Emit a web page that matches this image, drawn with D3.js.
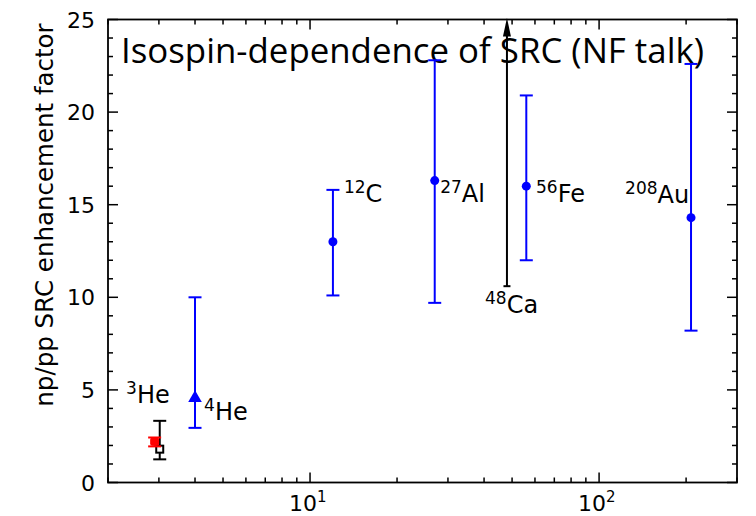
<!DOCTYPE html>
<html><head><meta charset="utf-8">
<script src="https://cdn.jsdelivr.net/npm/d3@7"></script>
<style>body{margin:0;background:#fff}svg{display:block}</style>
</head><body><svg id="c" width="756" height="516"></svg>
<script>
// Blue data points (mass number, factor, low, high)
const blueNames = ["4He","12C","27Al","56Fe","208Au"];
const blueA     = [4, 12, 27, 56, 208];
const blueY     = [4.5, 13.0, 16.3, 16.0, 14.3];
const blueLo    = [2.95, 10.1, 9.7, 12.0, 8.2];
const blueHi    = [10.0, 15.8, 22.8, 20.9, 22.6];
// 3He points
const he3BlackA = [3.02], he3BlackY = [1.8], he3BlackLo = [1.25], he3BlackHi = [3.33];
const he3RedA   = [2.9],  he3RedY   = [2.2], he3RedLo   = [1.95], he3RedHi   = [2.43];
// 48Ca lower limit arrow
const caA = [48], caLo = [10.6], caHi = [25];
// labels
const labMass = ["3","4","12","27","56","208","48"];
const labElem = ["He","He","C","Al","Fe","Au","Ca"];
const labA    = [2.31, 4.3, 13.1, 28.2, 60.5, 123, 40.3];
const labY    = [4.3, 3.37, 15.16, 15.16, 15.16, 15.1, 9.15];
const yTicks  = [0,5,10,15,20,25];
const xMajor  = [10,100];
const titleText = "Isospin-dependence of SRC (NF talk)";
const yLabel = "np/pp SRC enhancement factor";

const svg = d3.select("#c");
const L=108, R=737, T=19.5, B=482.5;
const x = d3.scaleLog().domain([2,300]).range([L,R]);
const y = d3.scaleLinear().domain([0,25]).range([B,T]);
const DJ = "DejaVu Sans, sans-serif";

const xMinor = [];
[1,10,100].forEach(d=>{for(let k=2;k<=9;k++){const v=d*k; if(v>=2&&v<=300&&v!==10&&v!==100) xMinor.push(v);}});
const yMinor = d3.range(1,25).filter(v=>v%5!==0);

const g = svg.append("g").attr("stroke","#000").attr("stroke-width",1.5);
xMajor.forEach(v=>{
  g.append("line").attr("x1",x(v)).attr("x2",x(v)).attr("y1",B).attr("y2",B-10);
  g.append("line").attr("x1",x(v)).attr("x2",x(v)).attr("y1",T).attr("y2",T+10);
});
xMinor.forEach(v=>{
  g.append("line").attr("x1",x(v)).attr("x2",x(v)).attr("y1",B).attr("y2",B-5);
  g.append("line").attr("x1",x(v)).attr("x2",x(v)).attr("y1",T).attr("y2",T+5);
});
yTicks.forEach(v=>{
  g.append("line").attr("x1",L).attr("x2",L+10).attr("y1",y(v)).attr("y2",y(v));
  g.append("line").attr("x1",R).attr("x2",R-10).attr("y1",y(v)).attr("y2",y(v));
});
yMinor.forEach(v=>{
  g.append("line").attr("x1",L).attr("x2",L+5).attr("y1",y(v)).attr("y2",y(v));
  g.append("line").attr("x1",R).attr("x2",R-5).attr("y1",y(v)).attr("y2",y(v));
});
svg.append("rect").attr("x",L).attr("y",T).attr("width",R-L).attr("height",B-T)
  .attr("fill","none").attr("stroke","#000").attr("stroke-width",1.8);

yTicks.forEach(v=>{
  svg.append("text").attr("x",95).attr("y",y(v)+8).attr("text-anchor","end")
    .attr("font-family",DJ).attr("font-size",22).text(v);
});
xMajor.forEach(v=>{
  const t = svg.append("text").attr("x",x(v)-21).attr("y",511)
    .attr("font-family",DJ).attr("font-size",22);
  t.append("tspan").text("10");
  t.append("tspan").attr("dy",-9).attr("font-size",15).text(Math.round(Math.log10(v)));
});
svg.append("text").attr("transform","translate(53,215) rotate(-90)").attr("text-anchor","middle")
  .attr("font-family",DJ).attr("font-size",24.5).text(yLabel);

svg.append("text").attr("x",121).attr("y",63).attr("font-family","Open Sans, sans-serif")
  .attr("font-size",35).attr("textLength",583).attr("lengthAdjust","spacingAndGlyphs").text(titleText);

function ebar(xv, lo, hi, col, cap){
  const gg = svg.append("g").attr("stroke",col).attr("stroke-width",2);
  gg.append("line").attr("x1",x(xv)).attr("x2",x(xv)).attr("y1",y(lo)).attr("y2",y(hi));
  [lo,hi].forEach(v=>gg.append("line").attr("x1",x(xv)-cap).attr("x2",x(xv)+cap).attr("y1",y(v)).attr("y2",y(v)));
}
blueA.forEach((a,i)=>{
  ebar(a, blueLo[i], blueHi[i], "#0000ff", 6.5);
  if(blueNames[i]==="4He"){
    svg.append("path").attr("d",d3.symbol(d3.symbolTriangle,80)())
      .attr("transform",`translate(${x(a)},${y(blueY[i])-1})`).attr("fill","#0000ff");
  } else {
    svg.append("circle").attr("cx",x(a)).attr("cy",y(blueY[i])).attr("r",4.5).attr("fill","#0000ff");
  }
});
ebar(he3BlackA[0], he3BlackLo[0], he3BlackHi[0], "#000", 6.5);
svg.append("rect").attr("x",x(he3BlackA[0])-3.5).attr("y",y(he3BlackY[0])-3.5).attr("width",7).attr("height",7)
  .attr("fill","#fff").attr("stroke","#000").attr("stroke-width",2);
ebar(he3RedA[0], he3RedLo[0], he3RedHi[0], "#ff0000", 6.5);
svg.append("rect").attr("x",x(he3RedA[0])-4.5).attr("y",y(he3RedY[0])-4).attr("width",9).attr("height",8)
  .attr("rx",2).attr("fill","#ff0000");

const ca = svg.append("g").attr("stroke","#000").attr("stroke-width",2);
ca.append("line").attr("x1",x(caA[0])).attr("x2",x(caA[0])).attr("y1",y(caLo[0])).attr("y2",y(caHi[0])+14);
ca.append("line").attr("x1",x(caA[0])-3.5).attr("x2",x(caA[0])+3.5).attr("y1",y(caLo[0])).attr("y2",y(caLo[0]));
svg.append("path").attr("fill","#000")
  .attr("d",`M${x(caA[0])},${y(caHi[0])-1.5} L${x(caA[0])-4},${y(caHi[0])+17} L${x(caA[0])+4},${y(caHi[0])+17} Z`);

labMass.forEach((m,i)=>{
  const t = svg.append("text").attr("x",x(labA[i])).attr("y",y(labY[i]))
    .attr("font-family",DJ).attr("font-size",24);
  t.append("tspan").attr("font-size",17).attr("dy",-9).text(m);
  t.append("tspan").attr("dy",9).text(labElem[i]);
});
</script></body></html>
